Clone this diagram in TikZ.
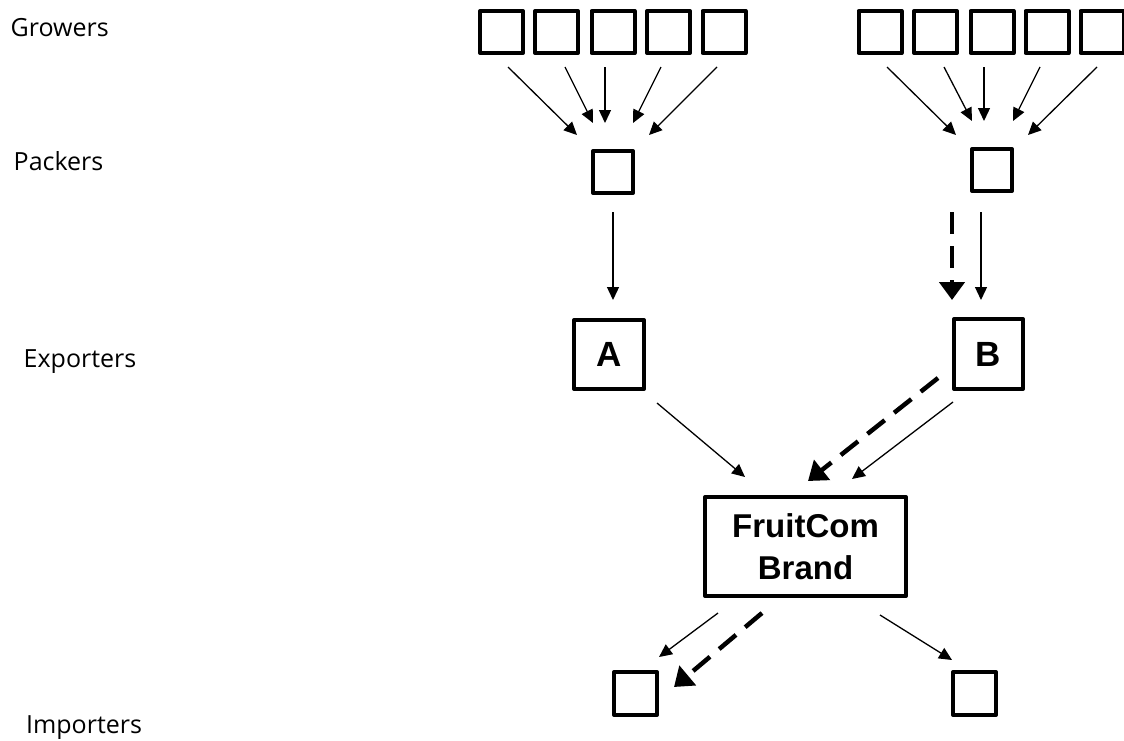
\documentclass[tikz,border=0pt]{standalone}
\usepackage{fontspec}
\setmainfont{Open Sans}
\newfontfamily\arialfont{Liberation Sans}
\usetikzlibrary{arrows.meta}
\begin{document}
\begin{tikzpicture}[x=1pt,y=-1pt,
  box/.style={draw, line width=4pt, line join=round, inner sep=0pt, minimum width=43pt, minimum height=42pt},
  lbl/.style={anchor=base west, inner sep=0pt, font=\fontsize{25}{30}\selectfont},
  flow/.style={line width=1.3pt, -{Triangle[length=13pt,width=12pt]}},
  bigflow/.style={line width=4.5pt, dash pattern=on 22pt off 12pt, -{Triangle[length=18pt,width=25pt]}},
  boldtext/.style={font=\arialfont\bfseries\fontsize{33}{42}\selectfont, align=center},
  lettertext/.style={font=\arialfont\bfseries\fontsize{35}{42}\selectfont}]
\useasboundingbox (0,0) rectangle (1124,740);

% level labels
\node[lbl] (lgrow) at (10.5,36) {Growers};
\node[lbl] (lpack) at (13.5,170) {Packers};
\node[lbl] (lexp) at (23.5,367) {Exporters};
\node[lbl] (limp) at (26,733) {Importers};

% growers left
\node[box] (gl1) at (501.5,32) {};
\node[box] (gl2) at (556.5,32) {};
\node[box] (gl3) at (613,32) {};
\node[box] (gl4) at (668.5,32) {};
\node[box] (gl5) at (724,32) {};
% growers right
\node[box] (gr1) at (880,32) {};
\node[box] (gr2) at (935.5,32) {};
\node[box] (gr3) at (992,32) {};
\node[box] (gr4) at (1047,32) {};
\node[box] (gr5) at (1102,32) {};

% packers
\node[box, minimum width=40pt] (pl) at (613,172) {};
\node[box, minimum width=40pt] (pr) at (992,170) {};

% exporters
\node[box, minimum width=70pt, minimum height=69pt, lettertext] (A) at (609,354.5) {A};
\node[box, minimum width=69pt, minimum height=70pt, lettertext] (B) at (988.5,354) {B};

% brand
\node[box, minimum width=201pt, minimum height=99pt, boldtext] (F) at (805.5,546.5) {FruitCom\\Brand};

% importers
\node[box, minimum height=43pt] (il) at (635.5,693.5) {};
\node[box, minimum height=43pt] (ir) at (974.5,693.5) {};

% connector end points (arrows float between boxes)
\coordinate (gl1s) at (508,67);  \coordinate (gl1e) at (577,135);
\coordinate (gl2s) at (565,67);  \coordinate (gl2e) at (593,123);
\coordinate (gl3s) at (605,67);  \coordinate (gl3e) at (605,123);
\coordinate (gl4s) at (661,67);  \coordinate (gl4e) at (633,123);
\coordinate (gl5s) at (717,67);  \coordinate (gl5e) at (649,135);

\coordinate (gr1s) at (887,67);  \coordinate (gr1e) at (956,135);
\coordinate (gr2s) at (944,67);  \coordinate (gr2e) at (972,121);
\coordinate (gr3s) at (984,67);  \coordinate (gr3e) at (984,121);
\coordinate (gr4s) at (1040,67); \coordinate (gr4e) at (1013,121);
\coordinate (gr5s) at (1097,67); \coordinate (gr5e) at (1028,135);

\coordinate (plA) at (613,212);  \coordinate (Atop) at (613,300);
\coordinate (prBd) at (952,212); \coordinate (Btopd) at (952,300);
\coordinate (prB) at (981,212);  \coordinate (Btop) at (981,300);

\coordinate (Aout) at (657,403); \coordinate (FinA) at (745,477);
\coordinate (Boutd) at (938,378); \coordinate (FinBd) at (808,481);
\coordinate (Bout) at (953,402); \coordinate (FinB) at (852,479);

\coordinate (Foutl) at (718,613); \coordinate (ilin) at (659,657);
\coordinate (Foutd) at (762,613); \coordinate (ilind) at (674,687);
\coordinate (Foutr) at (880,615); \coordinate (irin) at (952,660);

% grower -> packer
\draw[flow] (gl1s) -- (gl1e);
\draw[flow] (gl2s) -- (gl2e);
\draw[flow] (gl3s) -- (gl3e);
\draw[flow] (gl4s) -- (gl4e);
\draw[flow] (gl5s) -- (gl5e);
\draw[flow] (gr1s) -- (gr1e);
\draw[flow] (gr2s) -- (gr2e);
\draw[flow] (gr3s) -- (gr3e);
\draw[flow] (gr4s) -- (gr4e);
\draw[flow] (gr5s) -- (gr5e);

% packer -> exporter
\draw[flow] (plA) -- (Atop);
\draw[bigflow] (prBd) -- (Btopd);
\draw[flow] (prB) -- (Btop);

% exporter -> brand
\draw[flow] (Aout) -- (FinA);
\draw[bigflow] (Boutd) -- (FinBd);
\draw[flow] (Bout) -- (FinB);

% brand -> importers
\draw[flow] (Foutl) -- (ilin);
\draw[bigflow] (Foutd) -- (ilind);
\draw[flow] (Foutr) -- (irin);
\end{tikzpicture}
\end{document}
